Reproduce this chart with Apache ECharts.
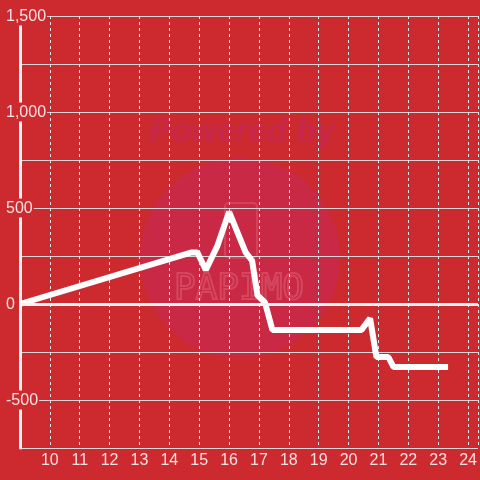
<!DOCTYPE html>
<html>
<head>
<meta charset="utf-8">
<script src="https://cdn.jsdelivr.net/npm/echarts@6/dist/echarts.min.js"></script>
<style>
  html, body { margin: 0; padding: 0; background: #CC2A2F; }
  #chart { width: 480px; height: 480px; }
</style>
</head>
<body>
<div id="chart"></div>
<script>
// values
const xValues = [9, 14.72, 14.94, 15.22, 15.6, 16.0, 16.55, 16.77, 16.95, 17.2, 17.45, 20.43, 20.72, 20.93, 21.33, 21.5, 23.33];
const yValues = [0, 268, 268, 177, 300, 480, 270, 225, 45, 8, -135, -135, -75, -276, -276, -328, -328];
const zeroLine = 0;
const xMin = 9, xMax = 24.33, xStep = 1;
const yMin = -750, yMax = 1500, yStep = 250, yLabelStep = 500;

const BG = '#CC2A2F';
const TEXT = '#F3E2E2';
const FONT = '"Liberation Sans", Arial, sans-serif';

const fmt = (v) => {
  const s = Math.abs(v).toString().replace(/\B(?=(\d{3})+(?!\d))/g, ',');
  return v < 0 ? '-' + s : s;
};

const chart = echarts.init(document.getElementById('chart'), null, { renderer: 'canvas' });

chart.setOption({
  backgroundColor: BG,
  animation: false,
  grid: { left: 20, right: 0, top: 16, bottom: 32, containLabel: false },
  graphic: [
    { type: 'circle', z: -10, silent: true, shape: { cx: 240, cy: 258, r: 100 }, style: { fill: '#C92945' } },
    { type: 'text', z: -10, silent: true, x: 242, y: 133,
      style: { text: 'Powered by', fill: '#C7284A', font: 'italic bold 33px ' + FONT, align: 'center', verticalAlign: 'middle' } },
    { type: 'rect', z: -9, silent: true, shape: { x: 225, y: 203, width: 32, height: 55, r: 4 },
      style: { fill: 'none', stroke: '#D9556A', lineWidth: 2, opacity: 0.6 } },
    { type: 'text', z: -9, silent: true, x: 239, y: 290,
      style: { text: 'PAPIMO', fill: 'none', stroke: '#DD5C70', lineWidth: 2, opacity: 0.6,
        font: '36px "DejaVu Sans Mono", monospace', align: 'center', verticalAlign: 'middle' } }
  ],
  xAxis: {
    type: 'value',
    min: xMin,
    max: xMax,
    interval: xStep,
    axisLine: { show: true, lineStyle: { color: '#D8D8D8', width: 1 } },
    axisTick: { show: false },
    axisLabel: {
      color: TEXT, fontSize: 16, fontFamily: FONT, margin: 5,
      showMinLabel: false, showMaxLabel: false,
      formatter: (v) => String(v)
    },
    splitLine: { show: true, lineStyle: { color: '#E6E6E6', width: 1, type: [3, 3] } }
  },
  yAxis: {
    type: 'value',
    min: yMin,
    max: yMax,
    interval: yStep,
    axisLine: { show: true, onZero: false, lineStyle: { color: '#F2F2F2', width: 3 } },
    axisTick: { show: false },
    axisLabel: {
      align: 'left',
      margin: 15,
      formatter: (v) => (v % yLabelStep === 0 && v !== yMin) ? '{b|' + fmt(v) + '}' : '',
      rich: {
        b: { color: TEXT, fontSize: 16, fontFamily: FONT, backgroundColor: BG, padding: [2, 1, 1, 1] }
      }
    },
    splitLine: { show: true, lineStyle: { color: '#D8D8D8', width: 1 } }
  },
  series: [{
    type: 'line',
    data: xValues.map((x, i) => [x, yValues[i]]),
    showSymbol: false,
    smooth: false,
    lineStyle: { color: '#FFFFFF', width: 6 },
    markLine: {
      silent: true,
      symbol: 'none',
      label: { show: false },
      lineStyle: { color: '#F4F4F4', width: 3, type: 'solid' },
      data: [{ yAxis: zeroLine }]
    }
  }]
});
</script>
</body>
</html>
